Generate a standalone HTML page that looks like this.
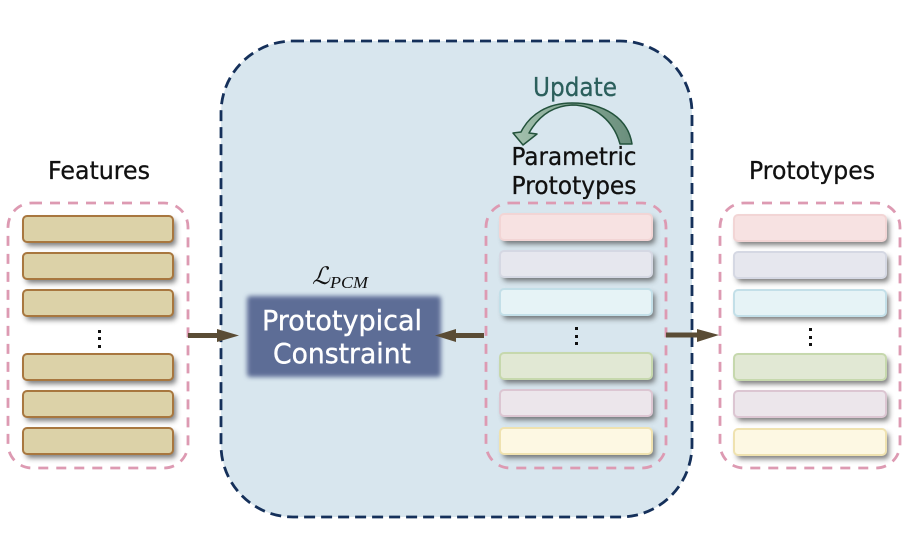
<!DOCTYPE html>
<html><head><meta charset="utf-8"><style>
html,body{margin:0;padding:0;background:#fff}
svg{display:block}
text{font-family:"Comic Sans MS","DejaVu Sans","Liberation Sans",sans-serif}
</style></head><body>
<svg width="922" height="550" viewBox="0 0 922 550" xmlns="http://www.w3.org/2000/svg">
<defs>
<filter id="s" x="-10%" y="-40%" width="120%" height="200%"><feGaussianBlur stdDeviation="2.600"/></filter>
<filter id="b" x="-10%" y="-20%" width="120%" height="140%"><feGaussianBlur stdDeviation="2.400"/></filter>
<linearGradient id="g" x1="0" x2="1" y1="0" y2="0"><stop offset="0" stop-color="#a3c1ae"/><stop offset="1" stop-color="#6a8e7c"/></linearGradient>
</defs>
<rect x="221" y="41" width="471" height="476" rx="72" fill="#d8e6ee" stroke="#15305a" stroke-width="2.800" stroke-dasharray="11 6"/>

<g fill="none" stroke="#dd9ab2" stroke-width="2.800" stroke-dasharray="10 8">
<rect x="8" y="203" width="180" height="265" rx="24"/>
<rect x="486" y="203" width="180" height="265" rx="24"/>
<rect x="720" y="203" width="180" height="265" rx="24"/>
</g>

<g fill="#444" opacity=".7" filter="url(#s)">
<rect x="26" y="220" width="150" height="26" rx="4"/><rect x="26" y="257" width="150" height="26" rx="4"/><rect x="26" y="294" width="150" height="26" rx="4"/><rect x="26" y="358" width="150" height="26" rx="4"/><rect x="26" y="395" width="150" height="26" rx="4"/><rect x="26" y="432" width="150" height="26" rx="4"/>
<rect x="503" y="218" width="152" height="26" rx="4"/><rect x="503" y="255" width="152" height="26" rx="4"/><rect x="503" y="293" width="152" height="26" rx="4"/><rect x="503" y="357" width="152" height="26" rx="4"/><rect x="503" y="394" width="152" height="26" rx="4"/><rect x="503" y="432" width="152" height="26" rx="4"/>
<rect x="737" y="219" width="152" height="26" rx="4"/><rect x="737" y="256" width="152" height="26" rx="4"/><rect x="737" y="294" width="152" height="26" rx="4"/><rect x="737" y="358" width="152" height="26" rx="4"/><rect x="737" y="395" width="152" height="26" rx="4"/><rect x="737" y="433" width="152" height="26" rx="4"/>
</g>

<g stroke-width="2">
<g fill="#dcd2a8" stroke="#a8773f">
<rect x="23" y="216" width="150" height="26" rx="4"/><rect x="23" y="253" width="150" height="26" rx="4"/><rect x="23" y="290" width="150" height="26" rx="4"/><rect x="23" y="354" width="150" height="26" rx="4"/><rect x="23" y="391" width="150" height="26" rx="4"/><rect x="23" y="428" width="150" height="26" rx="4"/>
</g>
<rect x="500" y="214" width="152" height="26" rx="4" fill="#f7e2e2" stroke="#f2d5d5"/>
<rect x="500" y="251" width="152" height="26" rx="4" fill="#e6e7ee" stroke="#d5d8e3"/>
<rect x="500" y="289" width="152" height="26" rx="4" fill="#e6f3f6" stroke="#c3dfe8"/>
<rect x="500" y="353" width="152" height="26" rx="4" fill="#e1e8d4" stroke="#c6d8ad"/>
<rect x="500" y="390" width="152" height="26" rx="4" fill="#ece6eb" stroke="#dcc6d2"/>
<rect x="500" y="428" width="152" height="26" rx="4" fill="#fdf8e3" stroke="#efe2b0"/>
<rect x="734" y="215" width="152" height="26" rx="4" fill="#f7e2e2" stroke="#f2d5d5"/>
<rect x="734" y="252" width="152" height="26" rx="4" fill="#e6e7ee" stroke="#d5d8e3"/>
<rect x="734" y="290" width="152" height="26" rx="4" fill="#e6f3f6" stroke="#c3dfe8"/>
<rect x="734" y="354" width="152" height="26" rx="4" fill="#e1e8d4" stroke="#c6d8ad"/>
<rect x="734" y="391" width="152" height="26" rx="4" fill="#ece6eb" stroke="#dcc6d2"/>
<rect x="734" y="429" width="152" height="26" rx="4" fill="#fdf8e3" stroke="#efe2b0"/>
</g>

<g fill="#111">
<rect x="98" y="330" width="3" height="3"/><rect x="98" y="337" width="3" height="3"/><rect x="98" y="345" width="3" height="3"/>
<rect x="575" y="327" width="3" height="3"/><rect x="575" y="335" width="3" height="3"/><rect x="575" y="342" width="3" height="3"/>
<rect x="809" y="328" width="3" height="3"/><rect x="809" y="336" width="3" height="3"/><rect x="809" y="343" width="3" height="3"/>
</g>

<rect x="247" y="296" width="194" height="81" rx="3" fill="#5d6d96" filter="url(#b)"/>
<text x="342" y="330" text-anchor="middle" font-size="28" fill="#fff" stroke="#fff" stroke-width=".4" textLength="160" lengthAdjust="spacingAndGlyphs">Prototypical</text>
<text x="342" y="363" text-anchor="middle" font-size="28" fill="#fff" stroke="#fff" stroke-width=".4" textLength="138" lengthAdjust="spacingAndGlyphs">Constraint</text>
<text x="312" y="284" font-size="24" fill="#111" style="font-family:'DejaVu Serif','Liberation Serif',serif;font-style:italic" textLength="18" lengthAdjust="spacingAndGlyphs">ℒ</text>
<text x="330" y="288" font-size="17" fill="#111" style="font-family:'Liberation Serif',serif;font-style:italic" textLength="38" lengthAdjust="spacingAndGlyphs">PCM</text>

<g fill="#5a4c35">
<path d="M188 333H217V329L239 335.500L217 342V338H188Z"/>
<path d="M484 333H456V329L435 335.500L456 342V338H484Z"/>
<path d="M666 332.500H697V329L719 335L697 342V337.500H666Z"/>
</g>

<path d="M632 144C628 118 604 103 572 103C548 103 530 114 521 132L513 133L523 145L537 134L529 133C538 117 552 106 572 105C596 105 614 122 620 144Z" fill="url(#g)" stroke="#23523c" stroke-width="1.500" stroke-linejoin="round"/>

<g fill="#111" stroke="#111" stroke-width=".3" font-size="25">
<text x="99" y="179" text-anchor="middle" textLength="102" lengthAdjust="spacingAndGlyphs">Features</text>
<text x="812" y="179" text-anchor="middle" textLength="126" lengthAdjust="spacingAndGlyphs">Prototypes</text>
<text x="574" y="165" text-anchor="middle" textLength="125" lengthAdjust="spacingAndGlyphs">Parametric</text>
<text x="574" y="194" text-anchor="middle" textLength="125" lengthAdjust="spacingAndGlyphs">Prototypes</text>
</g>
<text x="575" y="96" text-anchor="middle" font-size="26" fill="#2b5f5c" stroke="#2b5f5c" stroke-width=".3" textLength="84" lengthAdjust="spacingAndGlyphs">Update</text>
</svg>
</body></html>
